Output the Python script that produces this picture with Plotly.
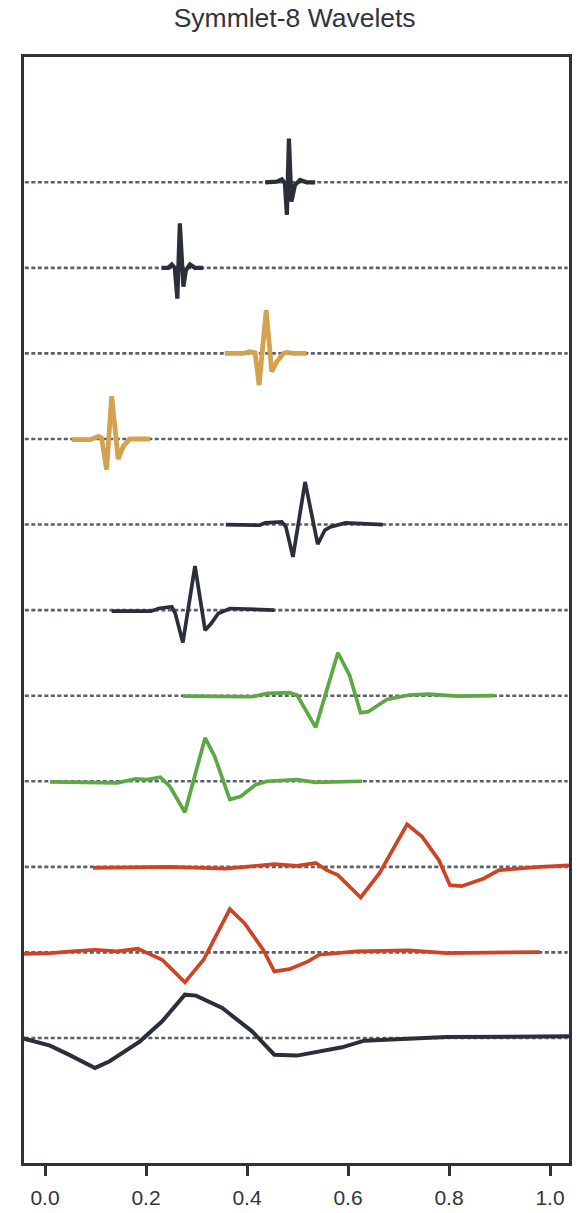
import plotly.graph_objects as go

# ---- data (x in [0,1], amplitude relative to each row's baseline) ----
row_levels = [10, 9, 8, 7, 6, 5, 4, 3, 2, 1, 0]
row_colors = ["#2b2f3a", "#2b2f3a", "#d4a14f", "#d4a14f", "#2b2f3a", "#2b2f3a",
              "#5ca843", "#5ca843", "#cd4424", "#cd4424", "#2b2f3a"]
row_widths = [4.2, 4.2, 4.8, 4.8, 3.7, 3.7, 3.7, 3.7, 3.7, 3.7, 4.0]

r1_x = [0.436, 0.459, 0.469, 0.475, 0.479, 0.483, 0.488, 0.495, 0.505, 0.518, 0.535]
r1_y = [0, 0.008, 0.035, -0.012, -0.38, 0.51, -0.226, -0.031, 0.027, 0, 0]

r2_x = [0.231, 0.244, 0.251, 0.257, 0.262, 0.267, 0.274, 0.279, 0.287, 0.297, 0.313]
r2_y = [0, 0, 0.04, 0.0, -0.36, 0.52, -0.22, -0.03, 0.04, 0, 0]

r3_x = [0.356, 0.393, 0.406, 0.416, 0.424, 0.438, 0.449, 0.459, 0.472, 0.478, 0.492, 0.518]
r3_y = [0, 0, 0.019, 0.008, -0.37, 0.506, -0.214, -0.097, 0, 0.012, 0, 0]

r4_x = [0.053, 0.089, 0.106, 0.112, 0.122, 0.132, 0.145, 0.155, 0.168, 0.208]
r4_y = [-0.008, -0.008, 0.031, 0.012, -0.358, 0.498, -0.234, -0.086, 0, 0]

r5_x = [0.358, 0.425, 0.436, 0.454, 0.469, 0.477, 0.491, 0.515, 0.540, 0.554, 0.565, 0.595, 0.617, 0.669]
r5_y = [0, -0.008, 0.019, 0.031, 0.031, -0.027, -0.378, 0.498, -0.230, -0.066, -0.027, 0.019, 0.012, 0]

r6_x = [0.132, 0.210, 0.225, 0.251, 0.258, 0.273, 0.297, 0.317, 0.329, 0.343, 0.366, 0.425, 0.454]
r6_y = [-0.012, -0.012, 0.019, 0.039, -0.039, -0.378, 0.514, -0.234, -0.156, -0.039, 0.019, 0, 0]

r7_x = [0.273, 0.410, 0.440, 0.484, 0.499, 0.536, 0.580, 0.603, 0.625, 0.640, 0.677, 0.721, 0.758, 0.817, 0.891]
r7_y = [-0.004, -0.012, 0.027, 0.035, 0.008, -0.370, 0.502, 0.24, -0.199, -0.187, -0.043, 0.008, 0.019, -0.004, 0]

r8_x = [0.010, 0.128, 0.143, 0.180, 0.203, 0.228, 0.247, 0.277, 0.317, 0.336, 0.366, 0.388, 0.417, 0.440, 0.499, 0.536, 0.588, 0.628]
r8_y = [-0.008, -0.012, -0.019, 0.027, 0.019, 0.047, -0.058, -0.362, 0.506, 0.29, -0.214, -0.175, -0.039, 0, 0.019, -0.012, 0, 0]

r9_x = [0.095, 0.247, 0.358, 0.410, 0.454, 0.499, 0.536, 0.558, 0.580, 0.625, 0.662, 0.717, 0.747, 0.780, 0.802, 0.825, 0.869, 0.899, 0.980, 1.047]
r9_y = [-0.012, 0, -0.02, 0.012, 0.031, 0.012, 0.047, -0.039, -0.097, -0.358, -0.078, 0.498, 0.350, 0.078, -0.214, -0.226, -0.136, -0.039, 0, 0.019]

r10_x = [-0.042, 0.010, 0.054, 0.099, 0.143, 0.184, 0.203, 0.232, 0.277, 0.314, 0.366, 0.395, 0.432, 0.454, 0.484, 0.521, 0.543, 0.573, 0.617, 0.721, 0.795, 0.980]
r10_y = [-0.016, -0.008, 0.012, 0.031, 0.012, 0.043, -0.008, -0.086, -0.350, -0.086, 0.506, 0.342, 0.031, -0.222, -0.195, -0.105, -0.027, -0.008, 0.012, 0.023, -0.008, 0.004]

r11_x = [-0.046, 0.010, 0.047, 0.099, 0.128, 0.188, 0.232, 0.277, 0.299, 0.351, 0.410, 0.454, 0.499, 0.543, 0.588, 0.632, 0.721, 0.795, 1.043]
r11_y = [0, -0.090, -0.195, -0.350, -0.272, -0.039, 0.195, 0.506, 0.495, 0.350, 0.078, -0.195, -0.206, -0.156, -0.109, -0.031, -0.008, 0.012, 0.019]

rows_x = [r1_x, r2_x, r3_x, r4_x, r5_x, r6_x, r7_x, r8_x, r9_x, r10_x, r11_x]
rows_y = [r1_y, r2_y, r3_y, r4_y, r5_y, r6_y, r7_y, r8_y, r9_y, r10_y, r11_y]

baseline_x = [-0.04, 1.035]
tick_vals = [0.0, 0.2, 0.4, 0.6, 0.8, 1.0]
tick_text = ["0.0", "0.2", "0.4", "0.6", "0.8", "1.0"]

FRAME = "#2e323b"

fig = go.Figure()

# dotted baselines
for lvl in row_levels:
    fig.add_trace(go.Scatter(
        x=baseline_x, y=[lvl, lvl], mode="lines",
        line=dict(color="#5a6068", width=2.6, dash="4px,2.5px"),
        hoverinfo="skip", showlegend=False))

# wavelets
for xs, ys, lvl, col, w in zip(rows_x, rows_y, row_levels, row_colors, row_widths):
    fig.add_trace(go.Scatter(
        x=xs, y=[lvl + v for v in ys], mode="lines",
        line=dict(color=col, width=w, shape="linear"),
        showlegend=False))

fig.update_layout(
    width=580, height=1213,
    margin=dict(l=24, r=11, t=57, b=50, autoexpand=False),
    paper_bgcolor="white", plot_bgcolor="white",
    font=dict(family="Liberation Sans, Arial, sans-serif", color="#33373f"),
    title=dict(text="Symmlet-8 Wavelets", x=0.508, xref="container", xanchor="center",
               y=1 - 18 / 1213, yref="container", yanchor="middle",
               font=dict(size=26.5, color="#30343c")),
    showlegend=False,
)
fig.update_xaxes(range=[-0.0416, 1.0376], showgrid=False, zeroline=False,
                 automargin=False,
                 showline=True, mirror=True, linecolor=FRAME, linewidth=3,
                 tickmode="array", tickvals=tick_vals, ticktext=tick_text,
                 ticks="outside", ticklen=10, tickwidth=3, tickcolor=FRAME,
                 ticklabelstandoff=4,
                 tickfont=dict(size=21, color="#30343c"))
fig.update_yaxes(range=[-1.461, 11.464], showgrid=False, zeroline=False,
                 automargin=False,
                 showline=True, mirror=True, linecolor=FRAME, linewidth=3,
                 showticklabels=False, ticks="")

fig.write_html("out.html")
